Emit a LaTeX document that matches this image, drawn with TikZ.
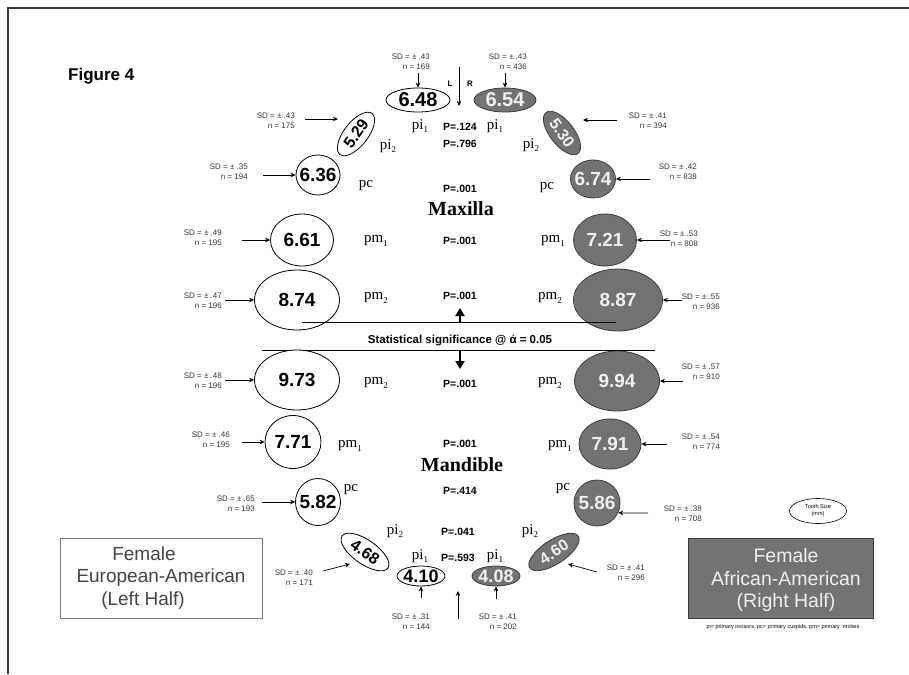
\documentclass[tikz,border=0pt]{standalone}
\usepackage{fontspec}
\setmainfont{Liberation Serif}
\setsansfont{Liberation Sans}
\usetikzlibrary{shapes.geometric,arrows.meta}
\definecolor{gfill}{HTML}{737373}
\definecolor{gline}{HTML}{3C3C3C}
\definecolor{gtext}{HTML}{F0F0F0}
\definecolor{sdcol}{HTML}{333333}
\definecolor{boxline}{HTML}{7A7A7A}
\definecolor{boxtext}{HTML}{454545}
\newcommand\tsub[1]{\raisebox{-0.45ex}{\fontsize{9}{9}\selectfont #1}}
\newcommand\sdtxt[2]{SD = ± .#1\\n = #2}
\begin{document}
\begin{tikzpicture}[x=1pt,y=-1pt,
 wl/.style={ellipse,draw=black,line width=0.8pt,fill=white,inner sep=0pt},
 gl/.style={ellipse,draw=gline,line width=0.8pt,fill=gfill,inner sep=0pt},
 esz/.style 2 args={minimum width=#1pt,minimum height=#2pt},
 numk/.style={font=\sffamily\bfseries\fontsize{#1}{#1}\selectfont,text=black,inner sep=0pt},
 numk/.default=19,
 numw/.style={numk=#1,text=gtext},
 numw/.default=19,
 sd/.style={font=\sffamily\fontsize{8}{10}\selectfont,text=sdcol,align=right,anchor=east,inner sep=0pt},
 lab/.style={font=\fontsize{15}{15}\selectfont,inner sep=0pt},
 pv/.style={font=\sffamily\bfseries\fontsize{10.5}{10.5}\selectfont,inner sep=0pt},
 arr/.style={-{Stealth[length=5pt,width=4.5pt]},line width=0.7pt},
 bigarr/.style={-{Triangle[length=8pt,width=9pt]},line width=2pt},
 frame/.style={draw=gline,line width=1.2pt},
 jaw/.style={font=\bfseries\fontsize{20}{20}\selectfont,inner sep=0pt},
]
\useasboundingbox (0,0) rectangle (909,674);
\coordinate (f1) at (8,674);
\coordinate (f2) at (8,8);
\coordinate (f3) at (909,8);
\draw[frame] (f1) -- (f2) -- (f3);

\node[font=\sffamily\bfseries\fontsize{17}{17}\selectfont,anchor=west,inner sep=0pt] (fig) at (68,76) {Figure 4};

% top centre arrow
\coordinate (ca) at (459,67);
\coordinate (cb) at (459,106);
\draw[arr] (ca) -- (cb);
\node[font=\sffamily\bfseries\fontsize{8}{8}\selectfont] (Ll) at (450,84) {L};
\node[font=\sffamily\bfseries\fontsize{8}{8}\selectfont] (Rl) at (470,84) {R};

% ---------- pi1 maxilla
\node[wl,esz={64}{24}] (e1) at (418,100) {};
\node[numk=20] (n1) at (e1) {6.48};
\node[sd] (s1) at (430,62) {\sdtxt{43}{169}};
\coordinate (t1) at (418,73);
\draw[arr] (t1) -- (e1);
\node[gl,esz={62}{24}] (e2) at (505,100) {};
\node[numw=20] (n2) at (e2) {6.54};
\node[sd] (s2) at (527,62) {\sdtxt{43}{436}};
\coordinate (t2) at (505,73);
\draw[arr] (t2) -- (e2);
\node[lab] (l1) at (420,126) {pi\tsub{1}};
\node[lab] (l2) at (495,126) {pi\tsub{1}};
\node[pv] (p1) at (460,127) {P=.124};

% ---------- pi2 maxilla
\node[wl,esz={52}{24},rotate=52] (e3) at (356,134) {};
\node[numk=16,rotate=55] (n3) at (e3) {5.29};
\node[sd] (s3) at (295,121) {\sdtxt{43}{175}};
\coordinate (t3) at (305,119);
\coordinate (h3) at (338,119);
\draw[arr] (t3) -- (h3);
\node[gl,esz={52}{24},rotate=-52] (e4) at (562,133) {};
\node[numw=16,rotate=-55] (n4) at (e4) {5.30};
\node[sd] (s4) at (667,121) {\sdtxt{41}{394}};
\coordinate (t4) at (617,120);
\coordinate (h4) at (583,120);
\draw[arr] (t4) -- (h4);
\node[lab] (l3) at (388,146) {pi\tsub{2}};
\node[lab] (l4) at (531,145) {pi\tsub{2}};
\node[pv] (p2) at (460,144) {P=.796};

% ---------- pc maxilla
\node[wl,esz={44}{40}] (e5) at (318,175) {};
\node[numk] (n5) at (e5) {6.36};
\node[sd] (s5) at (248,172) {\sdtxt{35}{194}};
\coordinate (t5) at (263,175);
\draw[arr] (t5) -- (e5);
\node[gl,esz={45}{38}] (e6) at (593,179) {};
\node[numw] (n6) at (e6) {6.74};
\node[sd] (s6) at (697,172) {\sdtxt{42}{838}};
\coordinate (t6) at (650,179);
\draw[arr] (t6) -- (e6);
\node[lab] (l5) at (366,186) {pc};
\node[lab] (l6) at (547,188) {pc};
\node[pv] (p3) at (460,189) {P=.001};

\node[jaw] (max) at (461,209) {Maxilla};

% ---------- pm1 maxilla
\node[wl,esz={63}{52}] (e7) at (302,240) {};
\node[numk] (n7) at (e7) {6.61};
\node[sd] (s7) at (222,238) {\sdtxt{49}{195}};
\coordinate (t7) at (242,240);
\draw[arr] (t7) -- (e7);
\node[gl,esz={63}{52}] (e8) at (605,240) {};
\node[numw] (n8) at (e8) {7.21};
\node[sd] (s8) at (698,239) {\sdtxt{53}{808}};
\coordinate (t8) at (670,240);
\draw[arr] (t8) -- (e8);
\node[lab] (l7) at (376,241) {pm\tsub{1}};
\node[lab] (l8) at (553,241) {pm\tsub{1}};
\node[pv] (p4) at (460,241) {P=.001};

% ---------- pm2 maxilla
\node[wl,esz={85}{60}] (e9) at (297,300) {};
\node[numk] (n9) at (e9) {8.74};
\node[sd] (s9) at (222,301) {\sdtxt{47}{196}};
\coordinate (t9) at (225,300);
\draw[arr] (t9) -- (e9);
\node[gl,esz={89}{62}] (e10) at (618,300) {};
\node[numw] (n10) at (e10) {8.87};
\node[sd] (s10) at (720,302) {\sdtxt{55}{936}};
\coordinate (t10) at (682,300);
\draw[arr] (t10) -- (e10);
\node[lab] (l9) at (376,298) {pm\tsub{2}};
\node[lab] (l10) at (550,298) {pm\tsub{2}};
\node[pv] (p5) at (460,296) {P=.001};

% ---------- significance band
\coordinate (ua) at (302,322);
\coordinate (ub) at (616,322);
\coordinate (la) at (262,350);
\coordinate (lb) at (655,350);
\draw[line width=0.8pt] (ua) -- (ub);
\draw[line width=0.8pt] (la) -- (lb);
\coordinate (upa) at (460,322);
\coordinate (upb) at (460,308);
\draw[bigarr] (upa) -- (upb);
\coordinate (dna) at (460,350);
\coordinate (dnb) at (460,369);
\draw[bigarr] (dna) -- (dnb);
\node[font=\sffamily\bfseries\fontsize{11.5}{11.5}\selectfont,inner sep=0pt] (sig) at (460,340) {Statistical significance @ ά = 0.05};

% ---------- pm2 mandible
\node[wl,esz={85}{60}] (e11) at (297,380) {};
\node[numk] (n11) at (e11) {9.73};
\node[sd] (s11) at (222,381) {\sdtxt{48}{196}};
\coordinate (t11) at (225,380);
\draw[arr] (t11) -- (e11);
\node[gl,esz={85}{60}] (e12) at (617,381) {};
\node[numw] (n12) at (e12) {9.94};
\node[sd] (s12) at (720,372) {\sdtxt{57}{910}};
\coordinate (t12) at (683,381);
\draw[arr] (t12) -- (e12);
\node[lab] (l11) at (376,383) {pm\tsub{2}};
\node[lab] (l12) at (550,383) {pm\tsub{2}};
\node[pv] (p6) at (460,384) {P=.001};

% ---------- pm1 mandible
\node[wl,esz={56}{53}] (e13) at (293,442) {};
\node[numk] (n13) at (e13) {7.71};
\node[sd] (s13) at (230,440) {\sdtxt{46}{195}};
\coordinate (t13) at (242,442);
\draw[arr] (t13) -- (e13);
\node[gl,esz={62}{50}] (e14) at (610,444) {};
\node[numw] (n14) at (e14) {7.91};
\node[sd] (s14) at (720,442) {\sdtxt{54}{774}};
\coordinate (t14) at (667,444);
\draw[arr] (t14) -- (e14);
\node[lab] (l13) at (350,446) {pm\tsub{1}};
\node[lab] (l14) at (560,446) {pm\tsub{1}};
\node[pv] (p7) at (460,444) {P=.001};

\node[jaw] (man) at (462,465) {Mandible};

% ---------- pc mandible
\node[wl,esz={45}{47}] (e15) at (318,502) {};
\node[numk] (n15) at (e15) {5.82};
\node[sd] (s15) at (255,504) {\sdtxt{65}{193}};
\coordinate (t15) at (262,502);
\draw[arr] (t15) -- (e15);
\node[gl,esz={46}{46}] (e16) at (597,503) {};
\node[numw] (n16) at (e16) {5.86};
\node[sd] (s16) at (702,514) {\sdtxt{38}{708}};
\coordinate (t16) at (648,513);
\draw[arr] (t16) -- (e16.-25);
\node[lab] (l15) at (351,490) {pc};
\node[lab] (l16) at (563,489) {pc};
\node[pv] (p8) at (460,491) {P=.414};

% ---------- incisors mandible
\node[lab] (l17) at (395,531) {pi\tsub{2}};
\node[lab] (l18) at (530,531) {pi\tsub{2}};
\node[pv] (p9) at (458,532) {P=.041};
\node[lab] (l19) at (420,556) {pi\tsub{1}};
\node[lab] (l20) at (495,556) {pi\tsub{1}};
\node[pv] (p10) at (458,558) {P=.593};

\node[wl,esz={56}{24},rotate=-35] (e17) at (365,552) {};
\node[numk=16,rotate=-35] (n17) at (e17) {4.68};
\node[sd] (s17) at (313,578) {\sdtxt{40}{171}};
\coordinate (t17) at (323,571);
\coordinate (h17) at (350,564);
\draw[arr] (t17) -- (h17);

\node[gl,esz={58}{24},rotate=33] (e20) at (554,552) {};
\node[numw=16,rotate=33] (n20) at (e20) {4.60};
\node[sd] (s20) at (645,573) {\sdtxt{41}{296}};
\coordinate (t20) at (597,572);
\coordinate (h20) at (568,564);
\draw[arr] (t20) -- (h20);

\node[wl,esz={48}{20}] (e18) at (421,576) {};
\node[numk=18] (n18) at (e18) {4.10};
\node[sd] (s18) at (430,622) {\sdtxt{31}{144}};
\coordinate (t18) at (421,598);
\draw[arr] (t18) -- (e18);

\node[gl,esz={48}{20}] (e19) at (496,576) {};
\node[numw=18] (n19) at (e19) {4.08};
\node[sd] (s19) at (517,622) {\sdtxt{41}{202}};
\coordinate (t19) at (496,599);
\draw[arr] (t19) -- (e19);

\coordinate (ma) at (458,619);
\coordinate (mb) at (458,591);
\draw[arr] (ma) -- (mb);

% ---------- legend
\node[draw=boxline,line width=1pt,fill=white,minimum width=202pt,minimum height=80pt,inner sep=0pt] (lbox) at (161,578) {};
\node[font=\sffamily\fontsize{19}{22.5}\selectfont,text=boxtext,align=center,inner sep=0pt] (ltxt) at (161,578) {Female\hspace*{34pt}\\European-American\\(Left Half)\hspace*{36pt}};

\node[draw=gline,line width=1pt,fill=gfill,minimum width=185pt,minimum height=80pt,inner sep=0pt] (rbox) at (780.5,578) {};
\node[font=\sffamily\fontsize{19.5}{22.5}\selectfont,text=gtext,align=center,inner sep=0pt] (rtxt) at (786,580) {Female\\African-American\\(Right Half)};

\node[ellipse,draw=black,line width=0.6pt,minimum width=57pt,minimum height=25pt,inner sep=0pt,font=\sffamily\fontsize{5.5}{7}\selectfont,align=center] (ts) at (818,511) {Tooth Size\\(mm)};

\node[font=\sffamily\fontsize{5.5}{6}\selectfont,inner sep=0pt] (foot) at (783,627) {pi= primary incisors, pc= primary cuspids, pm= primary\ \ molars};
\end{tikzpicture}
\end{document}
